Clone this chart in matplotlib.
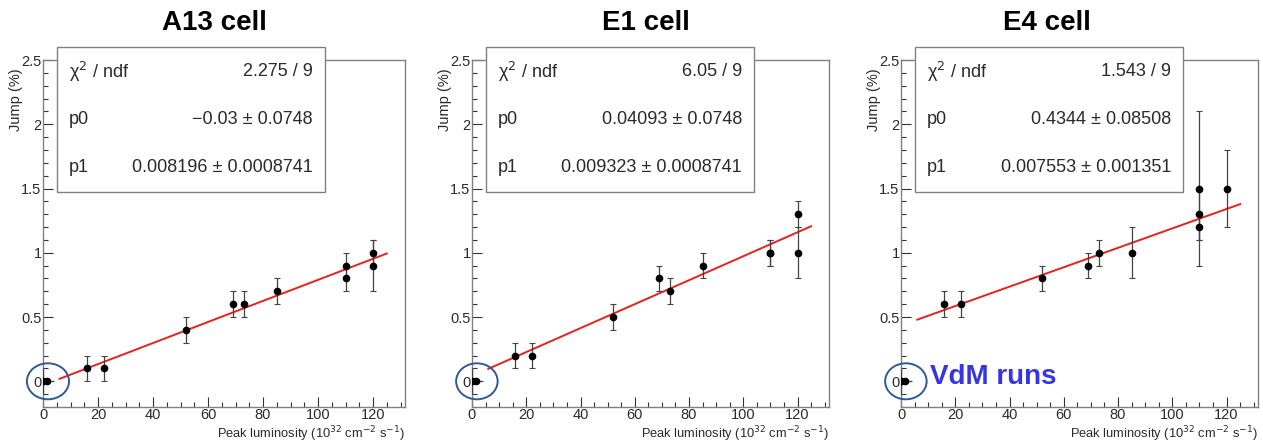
#!/usr/bin/env python3
"""Jump (%) vs peak luminosity for three TileCal cells, ROOT-style panels."""

import matplotlib
matplotlib.use("Agg")
import matplotlib.pyplot as plt
from matplotlib.patches import Ellipse, Rectangle
from matplotlib.ticker import MultipleLocator

plt.rcParams["font.family"] = ["Liberation Sans", "DejaVu Sans"]

# ---- data ----
titles = ["A13 cell", "E1 cell", "E4 cell"]

lumi = [16, 22, 52, 69, 73, 85, 110, 110, 120, 120]
a13_jump = [0.1, 0.1, 0.4, 0.6, 0.6, 0.7, 0.9, 0.8, 1.0, 0.9]
a13_err = [0.1, 0.1, 0.1, 0.1, 0.1, 0.1, 0.1, 0.1, 0.1, 0.2]
e1_jump = [0.2, 0.2, 0.5, 0.8, 0.7, 0.9, 1.0, 1.0, 1.3, 1.0]
e1_err = [0.1, 0.1, 0.1, 0.1, 0.1, 0.1, 0.1, 0.1, 0.1, 0.2]

e4_lumi = [16, 22, 52, 69, 73, 85, 110, 110, 110, 120]
e4_jump = [0.6, 0.6, 0.8, 0.9, 1.0, 1.0, 1.5, 1.3, 1.2, 1.5]
e4_err = [0.1, 0.1, 0.1, 0.1, 0.1, 0.2, 0.6, 0.2, 0.1, 0.3]

# VdM runs at zero luminosity
vdm_lumi = [0, 1.5]
vdm_jump = [0, 0]

# fit results (pol1), stat-box strings
p0 = [-0.03, 0.04093, 0.4344]
p1 = [0.008196, 0.009323, 0.007553]
chi2_txt = ["2.275 / 9", "6.05 / 9", "1.543 / 9"]
p0_txt = ["\u22120.03 \u00b1 0.0748", "0.04093 \u00b1 0.0748", "0.4344 \u00b1 0.08508"]
p1_txt = ["0.008196 \u00b1 0.0008741", "0.009323 \u00b1 0.0008741", "0.007553 \u00b1 0.001351"]
fit_range = (6, 125)

series = [(lumi, a13_jump, a13_err), (lumi, e1_jump, e1_err), (e4_lumi, e4_jump, e4_err)]

W, H = 1263, 442
fig = plt.figure(figsize=(W / 100, H / 100), dpi=100)

# axes boxes in pixels: (left, right), title centres
lefts = [43, 472, 901]
rights = [405, 829, 1258]
title_x = [214, 646, 1047]
top_px, bot_px = 60, 407
frame_col = "#808080"
txt_col = "#2a2a2a"

for i in range(3):
    ax = fig.add_axes([lefts[i] / W, 1 - bot_px / H,
                       (rights[i] - lefts[i]) / W, (bot_px - top_px) / H])
    x, y, e = series[i]
    ax.errorbar(x, y, yerr=e, fmt="o", color="black", ms=4.5,
                ecolor="#444444", elinewidth=0.9, capsize=2.5, capthick=0.8, zorder=3)
    ax.errorbar(vdm_lumi, vdm_jump, yerr=[0.1, 0], xerr=[[0, 0], [0, 2.5]], fmt="o",
                color="black", ms=4.5, ecolor="#444444", elinewidth=0.9, capsize=0,
                zorder=3)
    xf = list(fit_range)
    ax.plot(xf, [p0[i] + p1[i] * v for v in xf], color="#e8201e", lw=1.4, zorder=2)

    ax.set_xlim(0, 131.6)
    ax.set_ylim(-0.2, 2.5)
    ax.xaxis.set_major_locator(MultipleLocator(20))
    ax.xaxis.set_minor_locator(MultipleLocator(5))
    ax.yaxis.set_minor_locator(MultipleLocator(0.1))
    ax.set_yticks([0, 0.5, 1, 1.5, 2, 2.5])
    ax.set_yticklabels(["0", "0.5", "1", "1.5", "2", "2.5"])
    ax.tick_params(which="both", direction="in", color="#333333", labelsize=10.5,
                   labelcolor=txt_col, top=False, right=False)
    ax.tick_params(which="major", length=7, width=0.8)
    ax.tick_params(which="minor", length=3.5, width=0.8)
    ax.tick_params(axis="y", pad=1)
    ax.tick_params(axis="x", pad=1)
    for s in ax.spines.values():
        s.set_color(frame_col)
        s.set_linewidth(1.0)

    fig.text(title_x[i] / W, 1 - 23 / H, titles[i], fontsize=20, fontweight="bold",
             ha="center", va="center")

    # stat box (pixel placement, like ROOT's TPaveStats)
    bx0, bx1, by0, by1 = lefts[i] + 14, lefts[i] + 282, 47, 192
    fig.patches.append(Rectangle((bx0 / W, 1 - by1 / H), (bx1 - bx0) / W, (by1 - by0) / H,
                                 transform=fig.transFigure, facecolor="white",
                                 edgecolor=frame_col, lw=1.0, zorder=5))
    rows = [("\u03c7$^{2}$ / ndf", chi2_txt[i]), ("p0", p0_txt[i]), ("p1", p1_txt[i])]
    for (lab, val), ry in zip(rows, [72, 120, 168]):
        fig.text((bx0 + 12) / W, 1 - ry / H, lab, fontsize=13, va="center",
                 ha="left", color=txt_col, zorder=6)
        fig.text((bx1 - 12) / W, 1 - ry / H, val, fontsize=13, va="center",
                 ha="right", color=txt_col, zorder=6)

    # axis titles, ROOT style
    fig.text((lefts[i] - 27) / W, 1 - 68 / H, "Jump (%)", rotation=90, fontsize=10.5,
             ha="center", va="top", color=txt_col)
    fig.text(rights[i] / W, 1 - 434 / H,
             "Peak luminosity (10$^{32}$ cm$^{-2}$ s$^{-1}$)", fontsize=9.3,
             ha="right", va="center", color=txt_col)

    ax.add_patch(Ellipse((1.8, 0), 15.3, 0.28, fill=False, edgecolor="#2f5a96",
                         lw=1.4, clip_on=False, zorder=4))

fig.text(930 / W, 1 - 377 / H, "VdM runs", fontsize=20, fontweight="bold",
         color="#3535e6", ha="left", va="center")

fig.savefig("out.png", dpi=100)
